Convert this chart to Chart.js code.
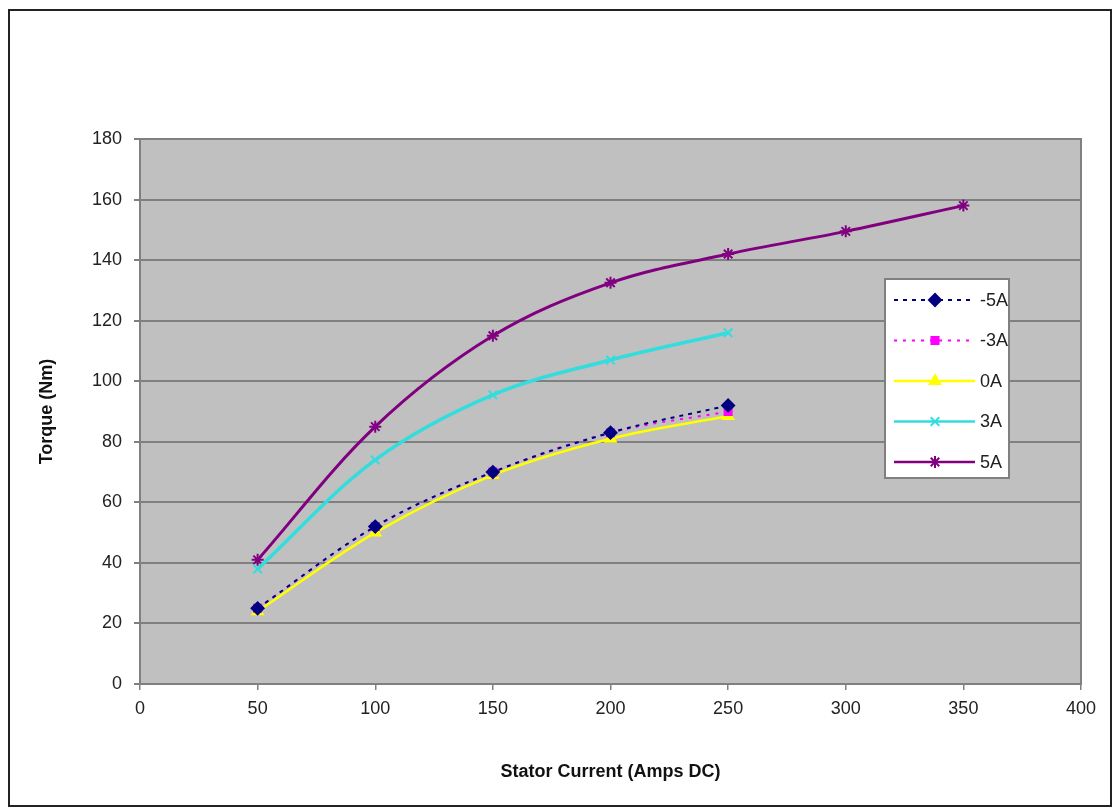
<!DOCTYPE html>
<html>
<head>
<meta charset="utf-8">
<script src="https://cdn.jsdelivr.net/npm/chart.js@4.4.1/dist/chart.umd.min.js"></script>
<style>
  html, body { margin: 0; padding: 0; background: #fff; }
  #wrap { position: relative; width: 1112px; height: 809px; }
  #frame { position: absolute; left: 8px; top: 9px; width: 1100px; height: 794px; border: 2px solid #222; pointer-events: none; }
</style>
</head>
<body>
<div id="wrap">
  <canvas id="chart" width="1112" height="809"></canvas>
  <div id="frame"></div>
</div>
<script>
'use strict';

// x values (stator current, A DC)
const currents = [50, 100, 150, 200, 250, 300, 350];
const seriesNames = ['-5A', '-3A', '0A', '3A', '5A'];

// torque (Nm)
const torqueMinus5 = [25, 52, 70, 83, 92];
const torqueMinus3 = [25, 52, 70, 83, 90];
const torque0 = [24, 50, 69, 81, 88.5];
const torque3 = [38, 74, 95.5, 107, 116];
const torque5 = [41, 85, 115, 132.5, 142, 149.5, 158];

const yTicks = [0, 20, 40, 60, 80, 100, 120, 140, 160, 180];
const xTicks = [0, 50, 100, 150, 200, 250, 300, 350, 400];

function toPoints(values) {
  return values.map((v, i) => ({ x: currents[i], y: v }));
}

const canvasElem = document.getElementById('chart');
const ctx = canvasElem.getContext('2d');

const styles = [
  { color: '#000080', point: 'rectRot', radius: 6, dash: [4, 5], width: 2 },
  { color: '#FF00FF', point: 'rect', radius: 5, dash: [3, 6], width: 2 },
  { color: '#FFFF00', point: 'triangle', radius: 6, dash: [], width: 2.5 },
  { color: '#33DDDD', point: 'crossRot', radius: 6, dash: [], width: 3.5 },
  { color: '#800080', point: 'star', radius: 6, dash: [], width: 3 }
];
const allValues = [torqueMinus5, torqueMinus3, torque0, torque3, torque5];

const datasets = seriesNames.map((name, i) => ({
  label: name,
  data: toPoints(allValues[i]),
  borderColor: styles[i].color,
  backgroundColor: styles[i].color,
  borderWidth: styles[i].width,
  borderDash: styles[i].dash,
  pointStyle: styles[i].point,
  pointRadius: styles[i].radius,
  pointBorderWidth: 2,
  tension: 0.35,
  fill: false
}));

// grey plot area with border
const plotBackground = {
  id: 'plotBackground',
  beforeDraw(chart) {
    const { ctx, chartArea: a } = chart;
    ctx.save();
    ctx.fillStyle = '#C0C0C0';
    ctx.fillRect(a.left, a.top, a.right - a.left, a.bottom - a.top);
    ctx.restore();
  },
  afterDatasetsDraw(chart) {
    const { ctx, chartArea: a } = chart;
    ctx.save();
    ctx.strokeStyle = '#808080';
    ctx.lineWidth = 2;
    ctx.strokeRect(a.left, a.top, a.right - a.left, a.bottom - a.top);
    ctx.restore();
  }
};

// legend box inside the plot, Excel style
const boxLegend = {
  id: 'boxLegend',
  afterDraw(chart) {
    const c = chart.ctx;
    const left = 885, top = 279, w = 124, h = 199;
    c.save();
    c.fillStyle = '#fff';
    c.fillRect(left, top, w, h);
    c.strokeStyle = '#808080';
    c.lineWidth = 2;
    c.strokeRect(left, top, w, h);
    chart.data.datasets.forEach((ds, i) => {
      const y = 300 + i * 40.5;
      c.strokeStyle = ds.borderColor;
      c.lineWidth = Math.min(ds.borderWidth, 2.5);
      c.setLineDash(ds.borderDash);
      c.beginPath();
      c.moveTo(894, y);
      c.lineTo(975, y);
      c.stroke();
      c.setLineDash([]);
      c.fillStyle = ds.backgroundColor;
      c.lineWidth = 2;
      Chart.helpers.drawPoint(c, { pointStyle: ds.pointStyle, radius: ds.pointRadius, borderWidth: 2, rotation: 0 }, 935, y);
      c.fillStyle = '#222';
      c.font = '18px Arial, "Liberation Sans", sans-serif';
      c.textBaseline = 'middle';
      c.textAlign = 'left';
      c.fillText(ds.label, 980, y + 1);
    });
    c.restore();
  }
};

const tickFont = { family: 'Arial, "Liberation Sans", sans-serif', size: 18 };
const titleFont = { family: 'Arial, "Liberation Sans", sans-serif', size: 18, weight: 'bold' };

new Chart(ctx, {
  type: 'line',
  data: { datasets },
  options: {
    responsive: false,
    animation: false,
    layout: { padding: { top: 139, right: 31, left: 0, bottom: 0 } },
    plugins: {
      legend: { display: false },
      tooltip: { enabled: false }
    },
    scales: {
      x: {
        type: 'linear',
        min: 0,
        max: 400,
        afterBuildTicks: s => { s.ticks = xTicks.map(v => ({ value: v })); },
        afterFit: s => { s.height = 125; },
        grid: { drawOnChartArea: false, drawTicks: true, tickLength: 6, color: '#808080', lineWidth: 1.5 },
        border: { display: false },
        ticks: { color: '#222', font: tickFont, padding: 8, maxRotation: 0 },
        title: { display: true, text: 'Stator Current (Amps DC)', color: '#111', font: titleFont, padding: { top: 0, bottom: 26 } }
      },
      y: {
        type: 'linear',
        min: 0,
        max: 180,
        afterBuildTicks: s => { s.ticks = yTicks.map(v => ({ value: v })); },
        afterFit: s => { s.width = 140; },
        grid: { color: '#808080', lineWidth: 2, drawTicks: true, tickLength: 6 },
        border: { display: false },
        ticks: { color: '#222', font: tickFont, padding: 12 },
        title: { display: true, text: 'Torque (Nm)', color: '#111', font: titleFont, padding: { top: 36, bottom: 0 } }
      }
    }
  },
  plugins: [plotBackground, boxLegend]
});
</script>
</body>
</html>
